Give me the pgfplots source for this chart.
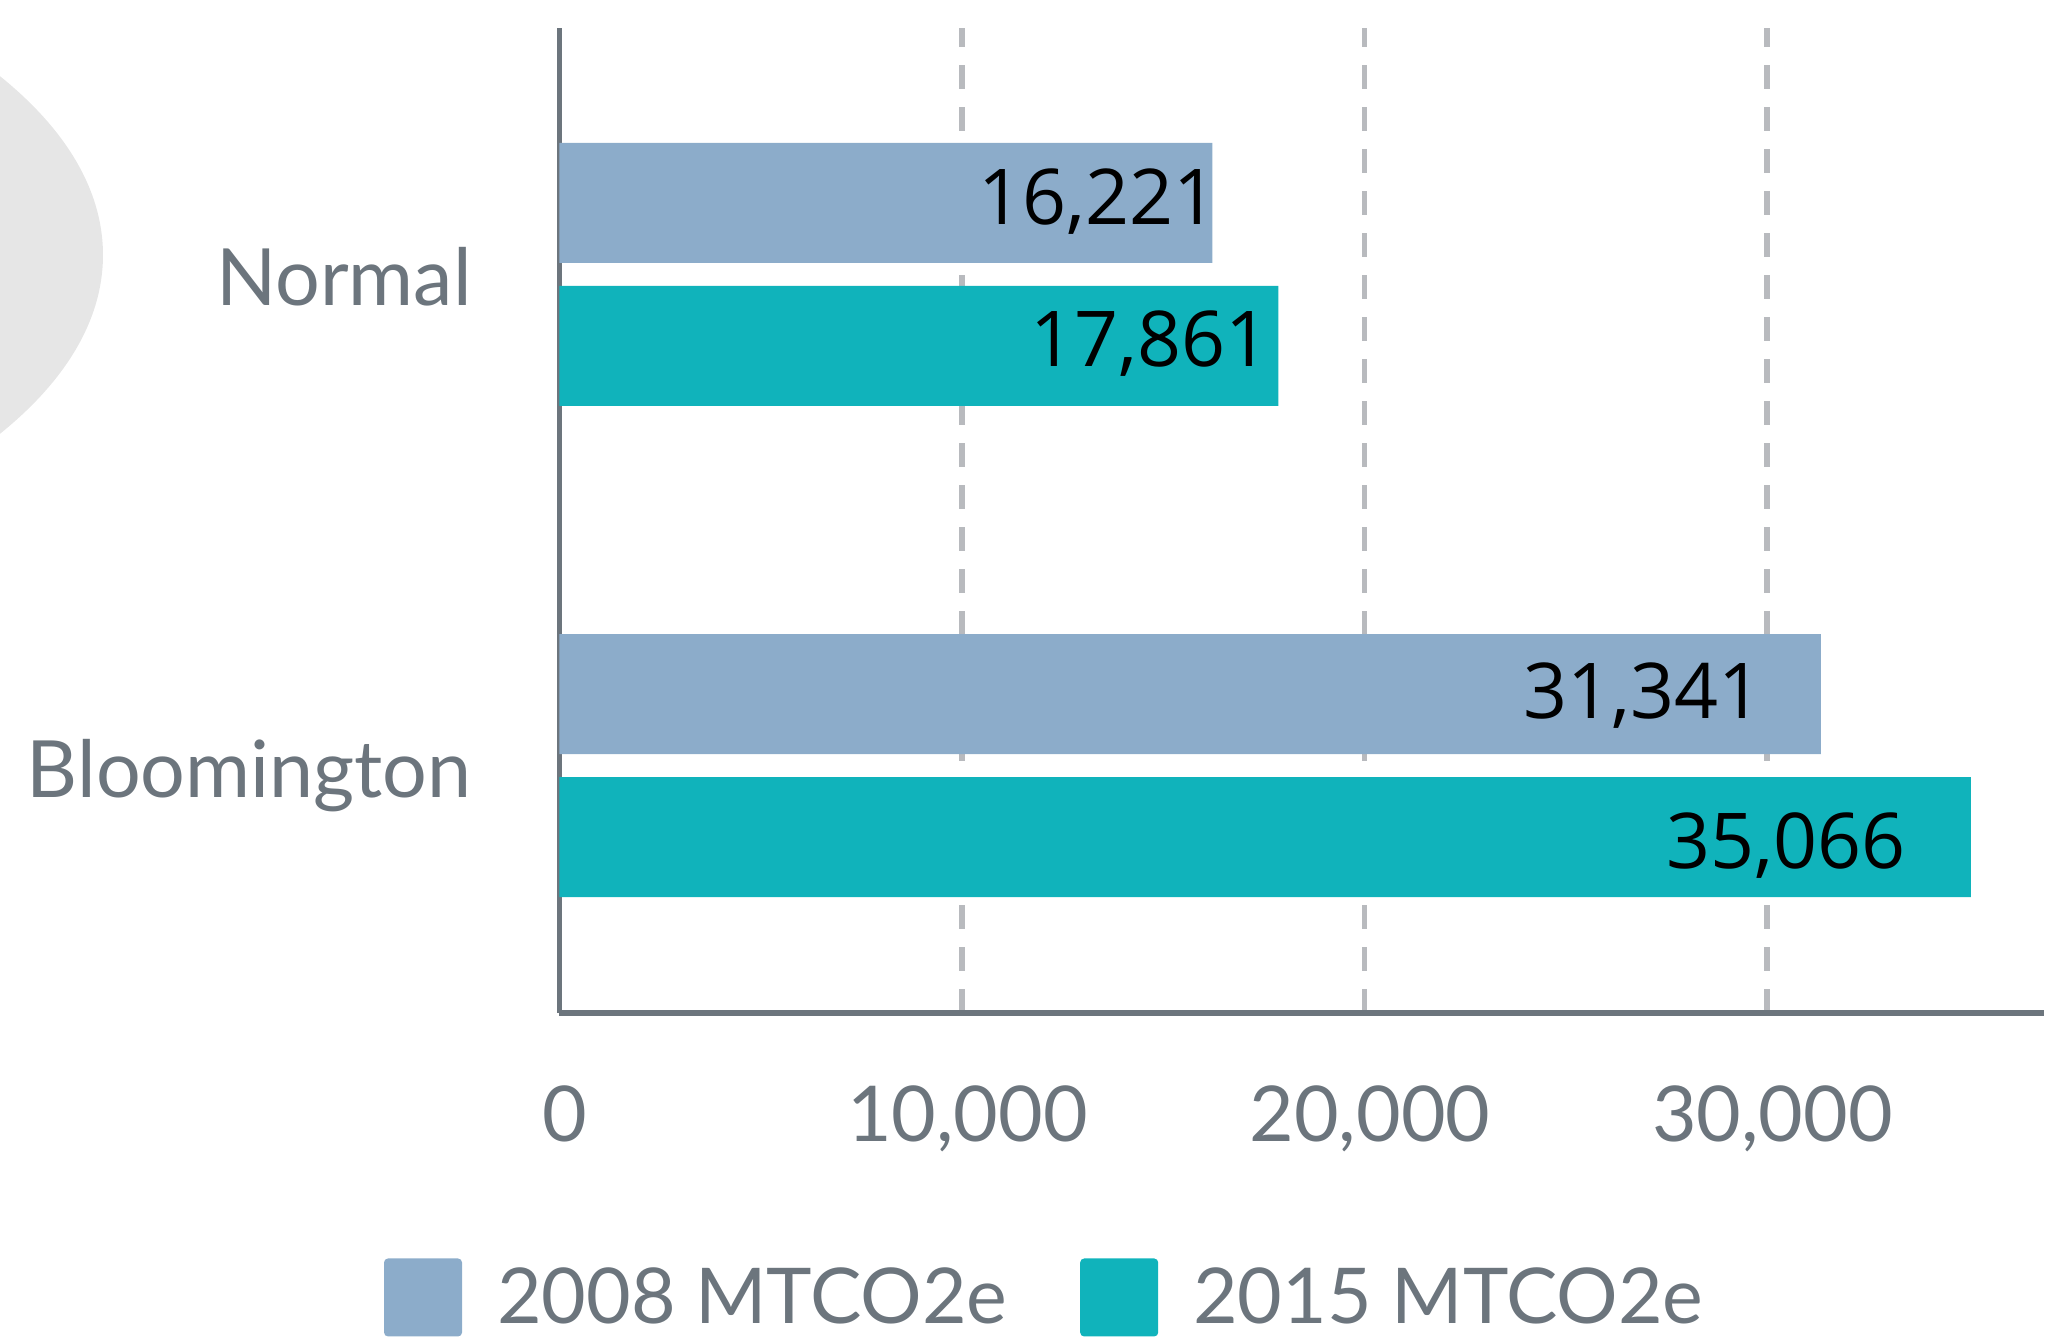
\documentclass[border=0pt]{standalone}
\usepackage{fontspec}
\usepackage{pgfplots}
\pgfplotsset{compat=1.18}
\newfontfamily\lato{Lato}
\newfontfamily\osans{Open Sans}
\definecolor{cA}{RGB}{140,172,202}
\definecolor{cB}{RGB}{16,179,187}
\definecolor{axisgray}{RGB}{108,117,125}
\definecolor{gridgray}{RGB}{184,186,190}
\definecolor{ellgray}{RGB}{230,230,230}
\pgfplotsset{sqlegend/.style={legend image code/.code={\fill[##1, draw=none, rounded corners=2pt] (0pt,-19.5pt) rectangle (39pt,19.5pt);}}}
\begin{document}
\begin{tikzpicture}
\useasboundingbox (0,0) rectangle (1034pt,671.5pt);
\begin{scope}
\clip (0,0) rectangle (1034pt,671.5pt);
\fill[ellgray] (-348.5pt,544pt) ellipse [x radius=400pt, y radius=182pt];
\end{scope}
\begin{axis}[
  at={(279.75pt,165pt)}, anchor=south west,
  scale only axis, width=742.25pt, height=492.5pt,
  xbar, bar width=60pt,
  xmin=0, xmax=36882, ymin=-0.504, ymax=1.502,
  axis lines*=left,
  axis line style={line width=2.75pt, draw=axisgray, -},
  xtick={0,10000,20000,30000},
  xticklabels={0,{10,000},{20,000},{30,000}},
  scaled x ticks=false,
  ytick={0,1}, yticklabels={Bloomington,Normal},
  major tick length=0pt,
  xmajorgrids,
  major grid style={draw=gridgray, line width=2.75pt, dash pattern=on 12pt off 9pt},
  xticklabel style={font=\fontsize{38.5}{42}\selectfont\lato, text=axisgray, anchor=north, inner sep=0pt, yshift=-36pt, xshift=2.75pt},
  yticklabel style={font=\fontsize{39.5}{44}\selectfont\lato, text=axisgray, anchor=base east, inner sep=0pt, xshift=-43.75pt, yshift=-15.75pt},
  legend style={at={(-0.1182,-0.2888)}, anchor=west, draw=none, fill=none, inner sep=0pt, outer sep=0pt,
    column sep=17.5pt, /tikz/every even column/.append style={column sep=36.5pt},
    nodes={inner sep=0pt, text=axisgray, font=\fontsize{38.5}{42}\selectfont\lato}},
  legend columns=2, legend cell align=left,
]
\addplot[fill=cA, draw=none, bar shift=35.75pt, sqlegend]
  coordinates {(16221,1) (31341,0)};
\addlegendentry{2008 MTCO2e}
\addplot[fill=cB, draw=none, bar shift=-35.75pt, sqlegend]
  coordinates {(17861,1) (35066,0)};
\addlegendentry{2015 MTCO2e}
\node[anchor=base east, inner sep=0pt, font=\fontsize{38.5}{42}\selectfont\osans] at (axis cs:16348,1.1008) {16,221};
\node[anchor=base east, inner sep=0pt, font=\fontsize{38.5}{42}\selectfont\osans] at (axis cs:17652,0.8116) {17,861};
\node[anchor=base east, inner sep=0pt, font=\fontsize{38.5}{42}\selectfont\osans] at (axis cs:29888,0.0967) {31,341};
\node[anchor=base east, inner sep=0pt, font=\fontsize{38.5}{42}\selectfont\osans] at (axis cs:33454,-0.2088) {35,066};
\end{axis}
\end{tikzpicture}
\end{document}
